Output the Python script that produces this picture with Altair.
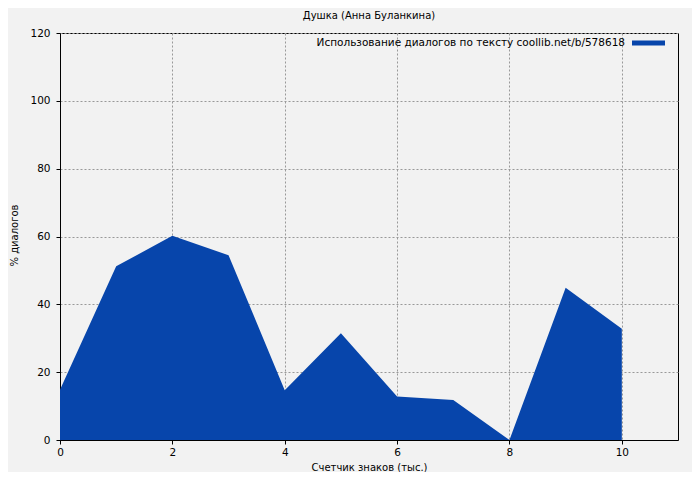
import altair as alt
import pandas as pd

x_vals = [0, 1, 2, 3, 4, 5, 6, 7, 8, 9, 10]
y_vals = [14.8, 51.2, 60.2, 54.5, 14.7, 31.5, 12.8, 11.8, 0.0, 44.9, 32.8]
title_text = "Душка (Анна Буланкина)"
legend_text = "Использование диалогов по тексту coollib.net/b/578618"
x_title = "Счетчик знаков (тыс.)"
y_title = "% диалогов"
area_color = "#0745ab"

df = pd.DataFrame({"x": x_vals, "y": y_vals})

W, H = 618, 407
FONT = "DejaVu Sans"

xs = alt.Scale(domain=[0, 11], nice=False, zero=False)
ys = alt.Scale(domain=[0, 120], nice=False)

area = alt.Chart(df).mark_area(color=area_color, opacity=1, interpolate="linear").encode(
    x=alt.X("x:Q", scale=xs, title=x_title,
            axis=alt.Axis(values=[0, 2, 4, 6, 8, 10], grid=True, format="d",
                          titleX=309, titleY=27, titleBaseline="middle", titleAlign="center")),
    y=alt.Y("y:Q", scale=ys, title=y_title,
            axis=alt.Axis(values=[0, 20, 40, 60, 80, 100, 120], grid=True,
                          titleX=-46, titleY=202, titleBaseline="middle",
                          titleAlign="center", titleAngle=270)),
)

leg_df = pd.DataFrame({"t": [legend_text]})
leg_text = alt.Chart(leg_df).mark_text(
    align="right", baseline="middle", fontSize=10.5, font=FONT, color="black"
).encode(x=alt.value(565), y=alt.value(10), text="t:N")

leg_line = alt.Chart(leg_df).mark_rule(
    color=area_color, strokeWidth=5
).encode(x=alt.value(572), x2=alt.value(605), y=alt.value(10))

title_mark = alt.Chart(pd.DataFrame({"t": [title_text]})).mark_text(
    align="center", baseline="middle", fontSize=10, font=FONT, color="black"
).encode(x=alt.value(309), y=alt.value(-17), text="t:N")

chart = alt.layer(area, leg_text, leg_line, title_mark).properties(
    width=W, height=H,
    background="#f2f2f2",
    padding={"left": 52, "top": 25, "right": 14, "bottom": 32},
    autosize=alt.AutoSizeParams(type="none"),
).configure_view(
    stroke="black", strokeWidth=1, fill="#f2f2f2"
).configure_axis(
    domainColor="black", tickColor="black", tickSize=4, labelFlush=False,
    labelFont=FONT, labelFontSize=10.5, labelColor="black",
    titleFont=FONT, titleFontSize=10, titleFontWeight="normal", titleColor="black",
    gridColor="#999999", gridDash=[2, 2], gridWidth=1,
).configure_axisX(
    labelPadding=3,
).configure_axisY(
    labelPadding=6,
)

chart.save("out.html", embed_options={"renderer": "svg", "actions": False})
